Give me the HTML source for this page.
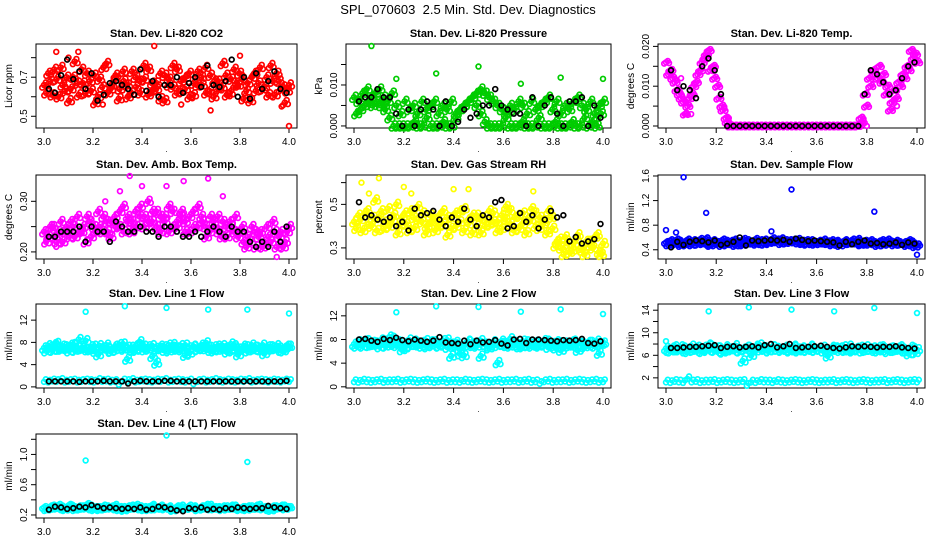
<!DOCTYPE html>
<html><head><meta charset="utf-8"><style>
html,body{margin:0;padding:0;background:#fff;}
svg{display:block;font-family:"Liberation Sans",sans-serif;}
</style></head><body>
<svg id="chart" width="936" height="540" viewBox="0 0 936 540">
<text x="468" y="14" text-anchor="middle" font-size="13" style="white-space:pre">SPL_070603  2.5 Min. Std. Dev. Diagnostics</text>
</svg>
<script>
// ---- data (x evenly spaced 3.0..4.0 unless given as pairs) ----
const xTicks=[3.0,3.2,3.4,3.6,3.8,4.0];
const co2A=[0.66,0.72,0.61,0.69,0.75,0.63,0.58,0.70,0.67,0.74,0.62,0.68,0.71,0.60,0.65,0.77,0.64,0.69,0.59,0.73,0.66,0.62,0.70,0.68,0.76,0.61,0.67,0.64,0.72,0.58,0.69,0.65,0.74,0.63,0.70,0.60,0.67,0.73,0.66,0.62,0.71,0.68,0.64,0.77,0.61,0.69,0.66,0.72,0.59,0.67,0.70,0.63,0.75,0.65,0.61,0.68,0.72,0.64,0.57,0.66];
const co2B=[0.62,0.68,0.74,0.60,0.66,0.70,0.64,0.78,0.61,0.67,0.72,0.63,0.57,0.69,0.75,0.62,0.66,0.71,0.64,0.68,0.60,0.73,0.65,0.62,0.69,0.74,0.63,0.67,0.59,0.71,0.66,0.76,0.62,0.68,0.64,0.72,0.61,0.66,0.70,0.75,0.63,0.60,0.68,0.65,0.71,0.62,0.74,0.66,0.69,0.63,0.58,0.72,0.67,0.64,0.70,0.76,0.61,0.68,0.65,0.63];
const co2Out=[[3.05,0.83],[3.14,0.83],[3.45,0.86],[3.68,0.53],[3.97,0.55],[4.0,0.45],[3.56,0.56],[3.24,0.56],[3.10,0.80],[3.80,0.81]];
const co2K=[0.64,0.62,0.71,0.79,0.69,0.73,0.64,0.72,0.58,0.61,0.67,0.68,0.66,0.64,0.61,0.74,0.63,0.68,0.60,0.66,0.66,0.70,0.62,0.67,0.70,0.65,0.76,0.66,0.65,0.68,0.79,0.60,0.70,0.59,0.72,0.64,0.68,0.73,0.64,0.62];
const prsA=[0.007,0.006,0.008,0.009,0.007,0.008,0.009,0.007,0.006,0.008,0.005,0.003,0.006,0.004,0.005,0.003,0.006,0.004,0.005,0.006,0.003,0.005,0.004,0.006,0.002,0.004,0.005,0.006,0.007,0.008,0.009,0.008,0.007,0.006,0.005,0.004,0.003,0.005,0.004,0.006,0.005,0.003,0.006,0.004,0.005,0.006,0.007,0.004,0.006,0.003,0.005,0.004,0.006,0.007,0.005,0.004,0.006,0.003,0.005,0.006];
const prsB=[0.003,0.004,0.005,0.006,0.005,0.006,0.005,0.004,0.002,0.000,0.000,0.000,0.000,0.000,0.001,0.000,0.000,0.002,0.000,0.000,0.000,0.001,0.000,0.000,0.003,0.004,0.005,0.006,0.007,0.005,0.003,0.001,0.000,0.000,0.000,0.000,0.002,0.000,0.000,0.000,0.001,0.000,0.000,0.000,0.002,0.000,0.000,0.000,0.001,0.000,0.000,0.000,0.001,0.000,0.000,0.002,0.000,0.001,0.000,0.003];
const prsOut=[[3.07,0.0195],[3.17,0.0115],[3.33,0.0128],[3.50,0.0145],[3.67,0.0103],[3.83,0.0118],[4.0,0.0115]];
const prsK=[0.006,0.007,0.007,0.009,0.007,0.007,0.003,0.000,0.004,0.000,0.004,0.006,0.004,0.000,0.006,0.000,0.001,0.004,0.002,0.003,0.005,0.005,0.009,0.005,0.004,0.003,0.003,0.000,0.007,0.000,0.005,0.007,0.003,0.000,0.006,0.006,0.007,0.000,0.005,0.002];
const tmpA=[0.016,0.014,0.011,0.008,0.006,0.005,0.008,0.011,0.014,0.017,0.019,0.015,0.010,0.005,0.002,0,0,0,0,0,0,0,0,0,0,0,0,0,0,0,0,0,0,0,0,0,0,0,0,0,0,0,0,0,0,0,0.001,0.005,0.010,0.013,0.015,0.013,0.010,0.006,0.007,0.010,0.012,0.014,0.017,0.016];
const tmpB=[0.013,0.012,0.009,0.007,0.003,0.007,0.010,0.013,0.016,0.018,0.014,0.012,0.007,0.004,0.001,0,0,0,0,0,0,0,0,0,0,0,0,0,0,0,0,0,0,0,0,0,0,0,0,0,0,0,0,0,0,0,0.002,0.008,0.012,0.014,0.012,0.011,0.008,0.004,0.009,0.011,0.013,0.015,0.019,0.018];
const tmpOut=[[3.06,0.012],[3.08,0.003],[3.10,0.003],[3.25,0.002],[3.80,0.0],[3.92,0.005]];
const tmpK=[0.014,0.009,0.010,0.009,0.007,0.015,0.017,0.014,0.008,0,0,0,0,0,0,0,0,0,0,0,0,0,0,0,0,0,0,0,0,0,0,0.008,0.014,0.013,0.011,0.008,0.009,0.012,0.015,0.016];
const ambA=[0.24,0.23,0.25,0.22,0.26,0.24,0.23,0.25,0.27,0.24,0.22,0.26,0.25,0.28,0.24,0.26,0.23,0.27,0.25,0.29,0.26,0.24,0.28,0.27,0.25,0.30,0.26,0.28,0.24,0.27,0.29,0.25,0.26,0.28,0.24,0.27,0.25,0.29,0.26,0.23,0.27,0.25,0.24,0.26,0.23,0.25,0.27,0.24,0.22,0.23,0.25,0.21,0.24,0.22,0.23,0.26,0.21,0.24,0.22,0.25];
const ambB=[0.22,0.25,0.23,0.24,0.22,0.25,0.26,0.23,0.24,0.25,0.27,0.23,0.24,0.25,0.27,0.24,0.26,0.25,0.28,0.24,0.27,0.26,0.25,0.29,0.27,0.26,0.28,0.25,0.27,0.26,0.24,0.28,0.25,0.27,0.26,0.24,0.28,0.25,0.27,0.25,0.24,0.26,0.27,0.23,0.25,0.26,0.24,0.23,0.25,0.21,0.22,0.24,0.23,0.21,0.25,0.22,0.24,0.23,0.21,0.24];
const ambOut=[[3.35,0.35],[3.57,0.34],[3.67,0.345],[3.31,0.32],[3.73,0.31],[3.95,0.19],[3.05,0.21],[3.40,0.33],[3.25,0.30],[3.50,0.33]];
const ambK=[0.23,0.23,0.24,0.24,0.24,0.25,0.22,0.25,0.24,0.24,0.22,0.26,0.25,0.24,0.24,0.25,0.24,0.24,0.23,0.25,0.25,0.24,0.23,0.23,0.24,0.23,0.24,0.25,0.24,0.23,0.25,0.24,0.24,0.22,0.21,0.22,0.21,0.24,0.22,0.25];
const rhA=[0.42,0.45,0.38,0.47,0.40,0.52,0.44,0.39,0.48,0.43,0.50,0.41,0.46,0.38,0.44,0.49,0.42,0.37,0.45,0.43,0.40,0.47,0.44,0.39,0.46,0.42,0.48,0.41,0.37,0.45,0.43,0.40,0.47,0.42,0.38,0.45,0.49,0.41,0.44,0.39,0.46,0.43,0.48,0.40,0.44,0.42,0.47,0.39,0.33,0.30,0.35,0.28,0.32,0.36,0.29,0.33,0.31,0.35,0.28,0.32];
const rhB=[0.39,0.43,0.46,0.41,0.44,0.38,0.47,0.42,0.40,0.45,0.37,0.44,0.41,0.47,0.39,0.43,0.46,0.40,0.42,0.38,0.45,0.41,0.36,0.44,0.40,0.47,0.38,0.43,0.45,0.40,0.37,0.44,0.41,0.46,0.42,0.39,0.43,0.47,0.38,0.45,0.41,0.37,0.43,0.46,0.39,0.41,0.37,0.44,0.31,0.34,0.27,0.32,0.29,0.34,0.30,0.27,0.33,0.30,0.36,0.27];
const rhOut=[[3.03,0.60],[3.10,0.62],[3.20,0.58],[3.40,0.57],[3.46,0.57],[3.72,0.56],[3.23,0.55],[3.06,0.55]];
const rhK=[0.51,0.44,0.45,0.43,0.42,0.44,0.40,0.42,0.38,0.48,0.45,0.46,0.47,0.43,0.40,0.44,0.42,0.48,0.43,0.40,0.45,0.44,0.51,0.52,0.39,0.40,0.46,0.42,0.45,0.39,0.43,0.47,0.44,0.45,0.33,0.35,0.32,0.33,0.34,0.41];
const sfA=[0.52,0.55,0.49,0.54,0.50,0.56,0.48,0.53,0.57,0.51,0.49,0.55,0.52,0.47,0.54,0.50,0.56,0.53,0.48,0.55,0.51,0.57,0.52,0.49,0.54,0.58,0.53,0.50,0.55,0.52,0.56,0.51,0.54,0.49,0.55,0.52,0.50,0.56,0.53,0.48,0.54,0.51,0.55,0.50,0.53,0.57,0.49,0.52,0.55,0.50,0.53,0.48,0.56,0.51,0.54,0.49,0.52,0.55,0.50,0.48];
const sfB=[0.48,0.51,0.56,0.47,0.53,0.50,0.55,0.49,0.52,0.58,0.47,0.53,0.50,0.56,0.49,0.54,0.47,0.51,0.57,0.50,0.53,0.49,0.55,0.56,0.51,0.53,0.56,0.58,0.51,0.55,0.53,0.57,0.50,0.55,0.52,0.49,0.54,0.51,0.50,0.55,0.52,0.47,0.53,0.50,0.56,0.51,0.48,0.54,0.49,0.52,0.47,0.55,0.50,0.53,0.48,0.52,0.50,0.47,0.53,0.45];
const sfOut=[[3.07,1.58],[3.16,1.0],[3.50,1.38],[3.83,1.02],[3.0,0.72],[4.0,0.32],[3.04,0.68],[3.42,0.70]];
const sfK=[0.44,0.53,0.48,0.53,0.55,0.54,0.52,0.55,0.48,0.50,0.53,0.60,0.47,0.55,0.54,0.55,0.56,0.55,0.56,0.53,0.58,0.56,0.54,0.55,0.54,0.53,0.52,0.47,0.53,0.49,0.53,0.55,0.50,0.51,0.49,0.50,0.52,0.48,0.52,0.50];
const l1A=[7.0,7.4,6.6,7.8,6.8,7.2,6.5,7.6,7.1,6.9,8.3,6.7,7.3,5.8,7.0,7.5,6.4,7.2,6.9,7.7,5.0,7.1,6.6,8.1,7.3,6.8,7.4,4.3,6.9,7.2,6.5,7.6,7.0,6.7,7.5,6.1,7.3,6.8,7.1,7.9,6.6,7.2,6.9,7.4,6.3,7.7,7.0,6.8,7.3,6.5,7.5,7.1,6.7,6.0,7.2,6.9,7.4,6.6,7.0,7.3];
const l1B=[6.5,7.1,7.6,6.8,7.3,6.9,7.5,6.6,8.5,7.0,6.7,7.2,6.4,7.4,6.9,7.0,6.5,7.3,7.6,6.8,7.1,6.6,7.4,7.0,6.7,7.2,5.5,6.9,7.3,6.6,7.5,7.1,6.8,7.4,5.7,7.0,7.2,6.7,7.5,6.9,7.1,6.5,7.3,6.8,7.0,6.6,7.4,5.8,6.9,7.2,6.7,7.1,6.8,7.5,6.6,7.2,6.9,7.0,6.5,7.3];
const l1C=[0.9,0.8,1.0,0.9,1.1,0.8,0.9,1.0,0.8,0.9,1.0,0.9,0.8,1.1,0.9,1.0,0.8,0.9,0.4,1.0,0.9,1.1,0.8,0.9,1.0,0.9,0.8,1.0,0.9,1.1,0.8,0.9,1.0,0.9,0.8,1.0,0.5,0.9,1.0,0.8,0.9,1.1,0.9,0.8,1.0,0.9,0.8,1.0,0.9,1.1,0.8,0.9,1.0,0.9,0.8,1.0,0.9,0.8,1.0,0.9];
const l1Out=[[3.17,13.5],[3.33,14.5],[3.50,14.2],[3.67,13.9],[3.83,13.9],[4.0,13.2]];
const l1K=[1.0,1.0,1.0,1.0,1.0,0.9,1.0,1.0,1.0,1.1,1.0,1.0,1.0,0.6,1.0,1.1,1.0,1.0,1.0,1.1,1.1,1.0,1.0,1.0,1.0,1.0,1.0,1.0,1.0,1.0,1.0,1.0,1.0,1.0,1.0,1.0,1.0,1.0,1.0,1.1];
const l2A=[7.2,7.6,6.9,7.8,7.1,7.4,6.8,7.7,7.3,8.2,7.0,7.5,6.6,7.9,7.2,7.4,6.9,7.8,7.1,7.6,6.9,7.3,7.9,5.2,7.1,6.4,5.3,7.7,7.0,7.4,5.2,7.2,6.9,7.6,4.1,7.3,7.0,8.1,7.4,6.8,7.7,7.2,6.9,7.5,7.1,7.8,6.7,7.3,7.6,6.2,7.4,7.0,7.7,6.2,7.3,7.1,7.5,6.9,5.7,7.4];
const l2B=[6.9,7.4,7.7,7.0,7.5,7.2,7.9,6.9,8.4,7.2,7.6,6.3,7.4,7.0,7.7,7.1,7.5,6.8,7.6,7.3,7.0,7.8,6.7,7.2,7.5,5.6,7.0,7.6,7.3,6.9,7.8,7.2,6.6,7.4,7.0,7.7,7.3,6.9,7.5,7.1,6.8,7.6,7.2,7.4,6.9,7.3,7.7,7.1,6.6,7.4,7.2,6.9,7.6,7.0,7.3,6.8,7.5,7.1,7.7,7.2];
const l2C=[0.8,0.7,0.9,0.8,0.7,0.8,0.9,0.7,0.8,0.8,0.9,0.7,0.8,0.9,0.8,0.7,0.8,0.9,0.8,0.7,0.8,0.9,0.7,0.8,0.8,0.7,0.9,0.8,0.7,0.8,0.9,0.8,0.7,0.8,0.9,0.7,0.8,0.8,0.9,0.7,0.8,0.9,0.7,0.8,0.5,0.8,0.9,0.7,0.8,0.8,0.9,0.7,0.8,0.9,0.8,0.7,0.8,0.9,0.7,0.8];
const l2Out=[[3.17,12.6],[3.33,13.6],[3.50,13.5],[3.67,12.7],[3.83,13.1],[4.0,12.3]];
const l2K=[8.0,8.1,7.8,7.6,8.1,7.9,8.3,7.9,7.7,8.0,7.8,7.6,7.8,8.4,7.5,7.4,7.3,7.8,7.2,7.8,7.5,7.6,7.9,7.3,7.0,8.0,8.1,7.4,8.0,8.0,7.9,7.8,7.7,7.9,7.8,7.9,8.1,7.4,7.3,7.7];
const l3A=[7.2,6.8,7.5,7.0,7.3,6.7,7.6,7.1,6.9,7.4,7.8,7.0,7.3,6.8,7.5,7.1,7.2,6.9,5.0,7.4,6.0,7.3,7.8,7.1,6.9,7.5,7.2,7.0,7.4,6.8,7.6,7.1,7.3,6.9,7.5,7.0,7.2,6.8,5.9,7.4,7.1,7.3,6.9,7.6,7.0,7.2,6.8,7.5,7.1,6.9,7.4,7.2,6.7,7.3,7.0,7.5,6.8,6.3,7.2,7.0];
const l3B=[6.9,7.3,7.0,7.5,6.8,7.2,7.0,7.4,6.7,7.1,7.6,6.9,7.3,6.6,7.2,7.0,7.7,6.8,7.1,7.4,6.9,7.6,7.0,7.3,6.8,7.5,7.1,6.9,7.3,7.0,7.4,6.8,7.2,7.0,7.6,6.9,7.2,7.4,6.7,7.1,7.3,6.9,7.5,7.0,6.8,7.2,7.4,6.9,7.1,7.3,6.8,7.5,7.0,7.2,6.9,7.3,7.1,6.8,7.4,6.5];
const l3C=[1.2,1.1,1.3,1.2,1.1,1.8,1.2,1.3,1.1,1.2,1.2,1.3,1.1,1.2,1.3,1.2,1.1,1.2,1.3,0.6,1.2,1.1,1.3,1.2,1.2,1.1,1.3,1.2,1.1,1.2,1.3,1.2,1.1,1.2,1.3,1.2,1.1,1.2,1.2,1.3,1.1,1.2,1.3,1.2,1.1,1.2,1.3,1.2,1.1,1.2,1.2,1.3,1.1,1.2,1.3,1.2,1.1,1.2,1.3,1.2];
const l3Out=[[3.17,13.8],[3.33,14.5],[3.50,14.1],[3.67,13.8],[3.83,14.4],[4.0,13.5],[3.0,8.5]];
const l3K=[7.3,7.3,7.4,7.5,7.5,7.6,7.7,7.8,7.3,7.5,7.6,7.4,7.5,7.6,7.4,7.8,8.0,7.4,7.6,8.0,7.3,7.4,7.5,7.6,7.7,7.5,7.3,7.2,7.4,7.6,7.5,7.6,7.5,7.4,7.5,7.5,7.6,7.4,7.3,7.2];
const l4A=[0.30,0.28,0.32,0.29,0.31,0.27,0.33,0.30,0.28,0.31,0.29,0.32,0.27,0.30,0.28,0.31,0.29,0.33,0.27,0.30,0.28,0.32,0.29,0.31,0.27,0.30,0.33,0.28,0.30,0.29,0.31,0.27,0.30,0.32,0.28,0.29,0.31,0.27,0.30,0.33,0.28,0.30,0.29,0.31,0.28,0.32,0.29,0.27,0.30,0.31,0.28,0.32,0.29,0.30,0.27,0.31,0.29,0.32,0.28,0.30];
const l4B=[0.27,0.31,0.29,0.33,0.28,0.30,0.32,0.27,0.31,0.29,0.34,0.28,0.30,0.27,0.32,0.29,0.31,0.28,0.30,0.26,0.31,0.29,0.33,0.28,0.30,0.27,0.31,0.29,0.32,0.28,0.30,0.26,0.31,0.29,0.28,0.32,0.30,0.27,0.31,0.29,0.33,0.28,0.30,0.27,0.31,0.29,0.32,0.28,0.30,0.27,0.31,0.29,0.33,0.28,0.30,0.26,0.31,0.29,0.32,0.30];
const l4Out=[[3.17,0.92],[3.50,1.25],[3.83,0.90]];
const l4K=[0.27,0.31,0.30,0.28,0.29,0.31,0.30,0.33,0.31,0.29,0.30,0.29,0.28,0.29,0.28,0.30,0.27,0.28,0.31,0.30,0.28,0.26,0.25,0.29,0.28,0.30,0.27,0.28,0.27,0.29,0.28,0.30,0.29,0.28,0.29,0.29,0.32,0.30,0.29,0.28];
const yTicksCO2=[0.5,0.6,0.7,0.8],yLabCO2=["0.5","","0.7",""];
const yTicksPrs=[0,0.005,0.010,0.015],yLabPrs=["0.000","","0.010",""];
const yTicksTmp=[0,0.005,0.010,0.015,0.020],yLabTmp=["0.000","","0.010","","0.020"];
const yTicksAmb=[0.20,0.25,0.30],yLabAmb=["0.20","","0.30"];
const yTicksRH=[0.3,0.4,0.5,0.6],yLabRH=["0.3","","0.5",""];
const yTicksSF=[0.4,0.8,1.2,1.6],yLabSF=["0.4","0.8","1.2","1.6"];
const yTicksL1=[0,4,8,12],yLabL1=["0","4","8","12"];
const yTicksL2=[0,4,8,12],yLabL2=["0","4","8","12"];
const yTicksL3=[2,4,6,8,10,12,14],yLabL3=["2","","6","","10","","14"];
const yTicksL4=[0.2,0.4,0.6,0.8,1.0,1.2],yLabL4=["0.2","","0.6","","1.0",""];

const NS="http://www.w3.org/2000/svg";
const svg=document.getElementById('chart');
function mk(tag,attrs,parent){const e=document.createElementNS(NS,tag);for(const k in attrs)e.setAttribute(k,attrs[k]);(parent||svg).appendChild(e);return e;}
const colL=[36,346,658],colR=[297,611,925],rowT=[44,175,304,434],H=84;
// marker cluster glyph offsets (px) to mimic the dense overplotting
const cluster=[[0,0],[1.8,-2.6],[-1.8,2.6],[3,1.5]];
function panel(p){
  const L=colL[p.c],R=colR[p.c],T=rowT[p.r],B=T+H;
  const g=mk('g',{});
  
  
  const xs=v=>L+8+(v-3)*(R-L-16);
  const ys=v=>B-(v-p.y0)/(p.y1-p.y0)*H;
  const t=mk('text',{x:(L+R)/2,y:T-7,'text-anchor':'middle','font-size':11,'font-weight':'bold'},g);t.textContent=p.title;
  
  
  const box=mk('rect',{x:L,y:T,width:R-L,height:H,fill:'none',stroke:'#000','stroke-width':1},g);
  
  
  mk('line',{x1:xs(xTicks[0]),x2:xs(xTicks[xTicks.length-1]),y1:B,y2:B,stroke:'#000'},g);
  xTicks.forEach(v=>{mk('line',{x1:xs(v),x2:xs(v),y1:B,y2:B+5,stroke:'#000'},g);
    const tx=mk('text',{x:xs(v),y:B+17,'text-anchor':'middle','font-size':10},g);tx.textContent=v.toFixed(1);
    
    });
  mk('text',{x:(L+R)/2,y:B+24,'text-anchor':'middle','font-size':8},g).textContent='.';
  mk('line',{x1:L,x2:L,y1:ys(p.yt[0]),y2:ys(p.yt[p.yt.length-1]),stroke:'#000'},g);
  p.yt.forEach((v,i)=>{mk('line',{x1:L-5,x2:L,y1:ys(v),y2:ys(v),stroke:'#000'},g);
    if(p.yl[i]){const ty=mk('text',{x:0,y:0,'text-anchor':'middle','font-size':10,transform:`translate(${L-9},${ys(v)}) rotate(-90)`},g);ty.textContent=p.yl[i];
    
    }});
  const yt=mk('text',{x:0,y:0,'text-anchor':'middle','font-size':10,transform:`translate(${L-24},${(T+B)/2}) rotate(-90)`},g);yt.textContent=p.ylab;
  
  
  const pts=mk('g',{fill:'none','stroke-width':1.7},g);
  
  
  const dot=(x,y,col,dx,dy)=>{const c=mk('circle',{cx:xs(x)+(dx||0),cy:ys(y)+(dy||0),r:2.4,stroke:col},pts);
    
    };
  p.series.forEach((s,si)=>{const n=s.length,off=si%2?0.5:0;
    s.forEach((v,i)=>{let x=3+(i+off)/(n-1+(si%2?1:0));if(x>4)x=4;
      const cl=(p.flat&&si===2)?cluster.slice(0,2):cluster;
      cl.forEach(o=>dot(x,v,p.col,o[0],o[1]*(p.tight?0.5:1)));});});
  p.out.forEach(o=>dot(o[0],o[1],p.col));
  p.k.forEach((v,i)=>dot(3.02+i*(0.97/(p.k.length-1)),v,'#000'));
}
const panels=[
 {name:'panel-co2',c:0,r:0,title:'Stan. Dev. Li-820 CO2',ylab:'Licor ppm',y0:0.44,y1:0.87,yt:yTicksCO2,yl:yLabCO2,col:'#ff0000',series:[co2A,co2B],out:co2Out,k:co2K},
 {name:'panel-pressure',c:1,r:0,title:'Stan. Dev. Li-820 Pressure',ylab:'kPa',y0:-0.0005,y1:0.0200,yt:yTicksPrs,yl:yLabPrs,col:'#00cc00',series:[prsA,prsB],out:prsOut,k:prsK},
 {name:'panel-li820-temp',c:2,r:0,title:'Stan. Dev. Li-820 Temp.',ylab:'degrees C',y0:-0.0005,y1:0.0206,yt:yTicksTmp,yl:yLabTmp,col:'#ff00ff',series:[tmpA,tmpB],out:tmpOut,k:tmpK,tight:true},
 {name:'panel-amb-box-temp',c:0,r:1,title:'Stan. Dev. Amb. Box Temp.',ylab:'degrees C',y0:0.186,y1:0.352,yt:yTicksAmb,yl:yLabAmb,col:'#ff00ff',series:[ambA,ambB],out:ambOut,k:ambK},
 {name:'panel-gas-rh',c:1,r:1,title:'Stan. Dev. Gas Stream RH',ylab:'percent',y0:0.249,y1:0.635,yt:yTicksRH,yl:yLabRH,col:'#ffff00',series:[rhA,rhB],out:rhOut,k:rhK},
 {name:'panel-sample-flow',c:2,r:1,title:'Stan. Dev. Sample Flow',ylab:'ml/min',y0:0.25,y1:1.616,yt:yTicksSF,yl:yLabSF,col:'#0000ff',series:[sfA,sfB],out:sfOut,k:sfK,tight:true},
 {name:'panel-line1-flow',c:0,r:2,title:'Stan. Dev. Line 1 Flow',ylab:'ml/min',y0:-0.2,y1:14.9,yt:yTicksL1,yl:yLabL1,col:'#00ffff',series:[l1A,l1B,l1C],out:l1Out,k:l1K,flat:true},
 {name:'panel-line2-flow',c:1,r:2,title:'Stan. Dev. Line 2 Flow',ylab:'ml/min',y0:-0.2,y1:14.0,yt:yTicksL2,yl:yLabL2,col:'#00ffff',series:[l2A,l2B,l2C],out:l2Out,k:l2K,flat:true},
 {name:'panel-line3-flow',c:2,r:2,title:'Stan. Dev. Line 3 Flow',ylab:'ml/min',y0:0.2,y1:15.1,yt:yTicksL3,yl:yLabL3,col:'#00ffff',series:[l3A,l3B,l3C],out:l3Out,k:l3K,flat:true},
 {name:'panel-line4-flow',c:0,r:3,title:'Stan. Dev. Line 4 (LT) Flow',ylab:'ml/min',y0:0.16,y1:1.27,yt:yTicksL4,yl:yLabL4,col:'#00ffff',series:[l4A,l4B],out:l4Out,k:l4K,tight:true}
];
panels.forEach(panel);
</script>
</body></html>
